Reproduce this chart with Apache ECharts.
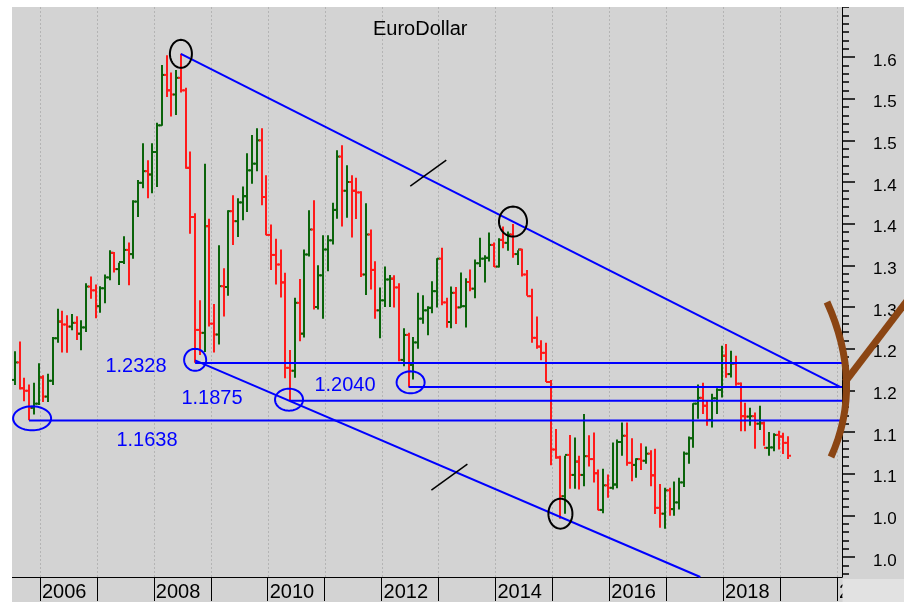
<!DOCTYPE html>
<html>
<head>
<meta charset="utf-8">
<script src="https://cdn.jsdelivr.net/npm/echarts@6/dist/echarts.min.js"></script>
<style>
html,body{margin:0;padding:0;background:#d3d3d3;}
#chart{width:904px;height:602px;}
</style>
</head>
<body>
<div id="chart"></div>
<script>
// ---------------- DATA (monthly EUR/USD bars, Aug 2005 - Mar 2019) ----------------
const firstMonth = '2005-08';
const barCount = 164;

const openV = [
 1.2125,1.2335,1.2025,1.1995,1.1790,
 1.1840,1.2155,1.1925,1.2115,1.2625,1.2825,1.2790,1.2765,1.2810,1.2680,1.2755,1.3245,
 1.3200,1.3010,1.3225,1.3355,1.3650,1.3455,1.3540,1.3685,1.3635,1.4265,1.4490,1.4630,
 1.4590,1.4860,1.5180,1.5785,1.5600,1.5550,1.5750,1.5600,1.4670,1.4080,1.2725,1.2690,
 1.3970,1.2800,1.2670,1.3250,1.3240,1.4150,1.4030,1.4255,1.4330,1.4640,1.4720,1.5000,
 1.4320,1.3865,1.3625,1.3510,1.3295,1.2270,1.2235,1.3050,1.2680,1.3630,1.3930,1.3000,
 1.3380,1.3690,1.3800,1.4165,1.4805,1.4395,1.4500,1.4395,1.4375,1.3390,1.3870,1.3445,
 1.2960,1.3080,1.3330,1.3340,1.3235,1.2365,1.2665,1.2305,1.2575,1.2860,1.2960,1.2990,
 1.3190,1.3580,1.3055,1.2820,1.3170,1.2995,1.3010,1.3300,1.3220,1.3525,1.3580,1.3590,
 1.3745,1.3485,1.3805,1.3770,1.3870,1.3635,1.3690,1.3390,1.3130,1.2630,1.2525,1.2450,
 1.2100,1.1290,1.1195,1.0730,1.1225,1.0985,1.1145,1.0985,1.1210,1.1175,1.1005,1.0565,
 1.0860,1.0830,1.0870,1.1380,1.1455,1.1130,1.1105,1.1175,1.1155,1.1240,1.0980,1.0590,
 1.0520,1.0800,1.0575,1.0655,1.0895,1.1240,1.1425,1.1840,1.1910,1.1815,1.1645,1.1905,
 1.2005,1.2415,1.2195,1.2320,1.2080,1.1690,1.1685,1.1690,1.1600,1.1605,1.1310,1.1315,
 1.1465,1.1445,1.1370
];
const highV = [
 1.2470,1.2585,1.2150,1.2070,1.2090,
 1.2325,1.2180,1.2200,1.2640,1.2980,1.2955,1.2900,1.2915,1.2890,1.2840,1.3285,1.3365,
 1.3270,1.3250,1.3390,1.3680,1.3660,1.3530,1.3850,1.3775,1.4280,1.4525,1.4965,1.4760,
 1.4965,1.5210,1.5905,1.6020,1.5815,1.5845,1.6038,1.5630,1.4865,1.4125,1.3080,1.4720,
 1.4060,1.3035,1.3740,1.3465,1.4160,1.4340,1.4305,1.4445,1.4845,1.5065,1.5145,1.5145,
 1.4580,1.3990,1.3820,1.3690,1.3410,1.2485,1.3110,1.3335,1.3690,1.4160,1.4280,1.3500,
 1.3860,1.3860,1.4250,1.4880,1.4940,1.4700,1.4580,1.4550,1.4390,1.4245,1.3930,1.3550,
 1.3235,1.3485,1.3385,1.3380,1.3285,1.2745,1.2690,1.2640,1.3170,1.3140,1.3010,1.3310,
 1.3585,1.3710,1.3110,1.3245,1.3240,1.3415,1.3345,1.3450,1.3570,1.3830,1.3620,1.3895,
 1.3775,1.3825,1.3965,1.3905,1.3995,1.3680,1.3700,1.3445,1.3220,1.2885,1.2600,1.2570,
 1.2125,1.1535,1.1215,1.1215,1.1465,1.1435,1.1215,1.1715,1.1460,1.1495,1.1050,1.1060,
 1.0990,1.1375,1.1410,1.1615,1.1615,1.1425,1.1185,1.1365,1.1325,1.1280,1.1300,1.0875,
 1.0830,1.0830,1.0905,1.0950,1.1265,1.1445,1.1845,1.2070,1.2090,1.1880,1.1960,1.2025,
 1.2535,1.2555,1.2475,1.2415,1.2095,1.1850,1.1790,1.1735,1.1815,1.1625,1.1500,1.1485,
 1.1515,1.1490,1.1450
];
const lowV = [
 1.2065,1.2010,1.1870,1.1640,1.1710,
 1.1825,1.1860,1.1860,1.2065,1.2570,1.2455,1.2450,1.2720,1.2605,1.2480,1.2700,1.3100,
 1.2865,1.2930,1.3045,1.3320,1.3415,1.3265,1.3515,1.3260,1.3580,1.4080,1.4425,1.4305,
 1.4365,1.4440,1.5175,1.5520,1.5285,1.5305,1.5575,1.4660,1.3880,1.2330,1.2425,1.2460,
 1.2765,1.2455,1.2550,1.2885,1.3135,1.3745,1.3840,1.4040,1.4140,1.4480,1.4630,1.4220,
 1.3860,1.3445,1.3270,1.3115,1.2145,1.1876,1.2150,1.2590,1.2635,1.3605,1.2970,1.2970,
 1.2860,1.3430,1.3750,1.4060,1.3965,1.4070,1.3835,1.4055,1.3360,1.3145,1.3210,1.2860,
 1.2625,1.3000,1.3000,1.2995,1.2350,1.2290,1.2042,1.2130,1.2500,1.2800,1.2660,1.2925,
 1.2995,1.3020,1.2750,1.2745,1.2795,1.2990,1.2755,1.3190,1.3105,1.3480,1.3295,1.3545,
 1.3480,1.3475,1.3705,1.3675,1.3590,1.3505,1.3365,1.3135,1.2570,1.2500,1.2360,1.2100,
 1.1100,1.1180,1.0460,1.0520,1.0820,1.0820,1.0810,1.0850,1.1085,1.0895,1.0560,1.0525,
 1.0710,1.0810,1.0825,1.1215,1.1095,1.0910,1.0950,1.1045,1.1120,1.0850,1.0515,1.0350,
 1.0340,1.0495,1.0495,1.0570,1.0840,1.1120,1.1310,1.1660,1.1715,1.1575,1.1555,1.1715,
 1.1915,1.2150,1.2155,1.2055,1.1510,1.1510,1.1575,1.1300,1.1525,1.1335,1.1215,1.1270,
 1.1290,1.1235,1.1175
];
const closeV = [
 1.2335,1.2025,1.1995,1.1790,1.1840,
 1.2155,1.1925,1.2115,1.2625,1.2825,1.2790,1.2765,1.2810,1.2680,1.2755,1.3245,1.3200,
 1.3010,1.3225,1.3355,1.3650,1.3455,1.3540,1.3685,1.3635,1.4265,1.4490,1.4630,1.4590,
 1.4860,1.5180,1.5785,1.5600,1.5550,1.5750,1.5600,1.4670,1.4080,1.2725,1.2690,1.3970,
 1.2800,1.2670,1.3250,1.3240,1.4150,1.4030,1.4255,1.4330,1.4640,1.4720,1.5000,1.4320,
 1.3865,1.3625,1.3510,1.3295,1.2270,1.2235,1.3050,1.2680,1.3630,1.3930,1.3000,1.3380,
 1.3690,1.3800,1.4165,1.4805,1.4395,1.4500,1.4395,1.4375,1.3390,1.3870,1.3445,1.2960,
 1.3080,1.3330,1.3340,1.3235,1.2365,1.2665,1.2305,1.2575,1.2860,1.2960,1.2990,1.3190,
 1.3580,1.3055,1.2820,1.3170,1.2995,1.3010,1.3300,1.3220,1.3525,1.3580,1.3590,1.3745,
 1.3485,1.3805,1.3770,1.3870,1.3635,1.3690,1.3390,1.3130,1.2630,1.2525,1.2450,1.2100,
 1.1290,1.1195,1.0730,1.1225,1.0985,1.1145,1.0985,1.1210,1.1175,1.1005,1.0565,1.0860,
 1.0830,1.0870,1.1380,1.1455,1.1130,1.1105,1.1175,1.1155,1.1240,1.0980,1.0590,1.0520,
 1.0800,1.0575,1.0655,1.0895,1.1240,1.1425,1.1840,1.1910,1.1815,1.1645,1.1905,1.2005,
 1.2415,1.2195,1.2320,1.2080,1.1690,1.1685,1.1690,1.1600,1.1605,1.1310,1.1315,1.1465,
 1.1445,1.1370,1.1215
];

// right-axis tick labels and year labels
const priceTicks = [1.00,1.05,1.10,1.15,1.20,1.25,1.30,1.35,1.40,1.45,1.50,1.55,1.60];
const yearTicks = [2006,2007,2008,2009,2010,2011,2012,2013,2014,2015,2016,2017,2018,2019,2020];
const labelledYears = [2006,2008,2010,2012,2014,2016,2018,2020];

// annotated support levels
const levelValues = [1.2328, 1.1875, 1.2040, 1.1638];
const levelFrom   = ['2008-10','2010-06','2012-07','2005-11'];

// trend-line anchor points [month, price]
const upperTrend = [['2008-07', 1.6038], ['2014-05', 1.4025]];
const lowerTrend = [['2008-10', 1.2360], ['2015-03', 1.0480]];

// circled turning points [month, price]
const blackCircles = [['2008-07', 1.6038], ['2014-05', 1.3995], ['2015-03', 1.0460]];
const blueCircles  = [['2008-10', 1.2330], ['2010-06', 1.1876], ['2012-07', 1.2042], ['2005-11', 1.1640]];

// parallel-channel slash marks [month-index, price]
const slashMarks = [[93.85, 1.4607], [98.3, 1.0958]];

// ---------------- helpers / styles ----------------
const FONT = '"Liberation Sans", Arial, sans-serif';
const GREEN = '#0a640a', RED = '#ff1a1a', BLUE = '#0000ff';
const X_MIN = 6.1, X_MAX = 181.06, Y_MIN = 0.976, Y_MAX = 1.66;
const BAR_SHIFT = -1.4;
function mIdx(s){ const p = s.split('-').map(Number); return (p[0]-2005)*12 + (p[1]-1); }
const startIdx = mIdx(firstMonth);
const barData = [];
for (let i = 0; i < barCount; i++) barData.push([startIdx + i, openV[i], highV[i], lowV[i], closeV[i]]);
const yearTickVals = yearTicks.map(y => (y-2005)*12);
const minorTicks = [];
for (let k = 98; k <= 166; k++) minorTicks.push(k/100);

// style for circles: [rx, ry, dx, dy]
const blackCircleStyle = [[11,14,0,0],[14,15,0,-2.5],[12,15,0,-5]];
const blueCircleStyle  = [[11,11,0,-3],[14,11,-1,-1],[14,11,2,-4.5],[19,12,3,-2]];

function lineThrough(a, b, toX, toY){
  const x1 = mIdx(a[0]), y1 = a[1], x2 = mIdx(b[0]), y2 = b[1];
  const s = (y2-y1)/(x2-x1);
  if (toX != null) return [[x1, y1],[toX, y1 + s*(toX-x1)]];
  return [[x1, y1],[x1 + (toY-y1)/s, toY]];
}

function ellipsePts(cx, cy, rx, ry){
  const pts = [];
  for (let k = 0; k < 64; k++){ const t = k/64*Math.PI*2; pts.push([cx+rx*Math.cos(t), cy+ry*Math.sin(t)]); }
  return pts;
}

const blueLineStyle = {color: BLUE, width: 2};
const series = [];

// vertical dotted year grid lines
series.push({
  type:'custom', z:1, silent:true,
  data: yearTickVals.map(v => [v]),
  encode:{x:0},
  renderItem(params, api){
    const top = api.coord([api.value(0), Y_MAX]);
    const bot = api.coord([api.value(0), Y_MIN]);
    const x = Math.round(top[0]) + 0.5;
    return {type:'line', shape:{x1:x, y1:top[1], x2:x, y2:bot[1]},
      style:{stroke:'#b4b4b4', lineWidth:1, lineDash:[2,2]}};
  }
});

// OHLC bars
series.push({
  type:'custom', z:2, silent:true,
  data: barData,
  encode:{x:0, y:[1,2,3,4]},
  renderItem(params, api){
    const x = api.value(0), o = api.value(1), h = api.value(2), l = api.value(3), c = api.value(4);
    const pH = api.coord([x,h]), pL = api.coord([x,l]), pO = api.coord([x,o]), pC = api.coord([x,c]);
    const px = Math.round(pH[0] + BAR_SHIFT);
    const st = {stroke: c >= o ? GREEN : RED, lineWidth: 2};
    return {type:'group', children:[
      {type:'line', shape:{x1:px, y1:pH[1], x2:px, y2:pL[1]}, style:st},
      {type:'line', shape:{x1:px-3, y1:pO[1], x2:px, y2:pO[1]}, style:st},
      {type:'line', shape:{x1:px, y1:pC[1], x2:px+3, y2:pC[1]}, style:st}
    ]};
  }
});

// horizontal support levels
levelValues.forEach((v, i) => {
  series.push({type:'line', z:3, silent:true, symbol:'none', lineStyle:blueLineStyle,
    data:[[mIdx(levelFrom[i]) - 0.3, v],[X_MAX, v]]});
});
// trend lines
series.push({type:'line', z:3, silent:true, symbol:'none', lineStyle:blueLineStyle,
  data: lineThrough(upperTrend[0], upperTrend[1], X_MAX, null).map(p => [p[0]-0.3, p[1]])});
series.push({type:'line', z:3, silent:true, symbol:'none', lineStyle:blueLineStyle,
  data: lineThrough(lowerTrend[0], lowerTrend[1], null, Y_MIN).map(p => [p[0]-0.3, p[1]])});

// circles and slash marks
series.push({
  type:'custom', z:4, silent:true, clip:false,
  data:[[0]], encode:{x:0},
  renderItem(params, api){
    const children = [];
    blackCircles.forEach((p, i) => {
      const c = api.coord([mIdx(p[0]), p[1]]); const s = blackCircleStyle[i];
      children.push({type:'polygon', shape:{points: ellipsePts(c[0]+BAR_SHIFT+s[2], c[1]+s[3], s[0], s[1])},
        style:{fill:'none', stroke:'#000', lineWidth:2}});
    });
    blueCircles.forEach((p, i) => {
      const c = api.coord([mIdx(p[0]), p[1]]); const s = blueCircleStyle[i];
      children.push({type:'polygon', shape:{points: ellipsePts(c[0]+BAR_SHIFT+s[2], c[1]+s[3], s[0], s[1])},
        style:{fill:'none', stroke:BLUE, lineWidth:2}});
    });
    slashMarks.forEach(p => {
      const c = api.coord(p);
      children.push({type:'line', shape:{x1:c[0]-18, y1:c[1]+13, x2:c[0]+18, y2:c[1]-13},
        style:{stroke:'#000', lineWidth:1.5}});
    });
    return {type:'group', children};
  }
});

const chart = echarts.init(document.getElementById('chart'), null, {renderer:'canvas'});
chart.setOption({
  animation:false,
  backgroundColor:'#d3d3d3',
  title:{text:'EuroDollar', left:373, top:19, padding:0,
    textStyle:{fontFamily:FONT, fontSize:20, fontWeight:'normal', color:'#000'}},
  grid:{left:12, right:62, top:7, bottom:24, containLabel:false},
  xAxis:{
    type:'value', min:X_MIN, max:X_MAX,
    axisLine:{show:true, lineStyle:{color:'#000', width:1}},
    axisTick:{show:true, customValues:yearTickVals, length:24, lineStyle:{color:'#000', width:1}},
    axisLabel:{show:true, customValues:yearTickVals, align:'left', margin:5, padding:[0,0,0,2],
      fontFamily:FONT, fontSize:20, color:'#000', hideOverlap:false,
      formatter:(v) => { const y = Math.round(2005 + v/12); return labelledYears.indexOf(y) >= 0 ? String(y) : ''; }},
    splitLine:{show:false}
  },
  yAxis:[{
    type:'value', position:'right', min:Y_MIN, max:Y_MAX, z:20,
    axisLine:{show:true, lineStyle:{color:'#000', width:1}},
    axisTick:{show:true, customValues:priceTicks, length:13, lineStyle:{color:'#000', width:1.5}},
    axisLabel:{show:true, customValues:priceTicks, margin:31, verticalAlign:'top', lineHeight:8,
      fontFamily:FONT, fontSize:17, color:'#000',
      formatter:(v) => v.toFixed(2).slice(0,3)},
    splitLine:{show:false}
  },{
    type:'value', position:'right', min:Y_MIN, max:Y_MAX, z:20,
    axisLine:{show:false},
    axisTick:{show:true, customValues:minorTicks, length:7, lineStyle:{color:'#000', width:1.5}},
    axisLabel:{show:false},
    splitLine:{show:false}
  }],
  graphic:[
    {type:'rect', z:50, shape:{x:0, y:0, width:904, height:7}, style:{fill:'#ffffff'}},
    {type:'rect', z:50, shape:{x:0, y:0, width:12, height:602}, style:{fill:'#ffffff'}},
    {type:'rect', z:50, shape:{x:842.5, y:579, width:62, height:23}, style:{fill:'#e2e2e2'}},
    {type:'text', z:60, x:136, y:366, style:{text:levelValues[0].toFixed(4), fill:BLUE, font:'20px '+FONT, align:'center', verticalAlign:'middle'}},
    {type:'text', z:60, x:212, y:398, style:{text:levelValues[1].toFixed(4), fill:BLUE, font:'20px '+FONT, align:'center', verticalAlign:'middle'}},
    {type:'text', z:60, x:345, y:385, style:{text:levelValues[2].toFixed(4), fill:BLUE, font:'20px '+FONT, align:'center', verticalAlign:'middle'}},
    {type:'text', z:60, x:147, y:440, style:{text:levelValues[3].toFixed(4), fill:BLUE, font:'20px '+FONT, align:'center', verticalAlign:'middle'}},
    {type:'bezierCurve', z:70, shape:{x1:827, y1:302, x2:831, y2:457, cpx1:864, cpy1:384},
      style:{stroke:'#8b4513', lineWidth:7, fill:'none'}},
    {type:'line', z:70, shape:{x1:845, y1:382, x2:910, y2:297},
      style:{stroke:'#8b4513', lineWidth:7}}
  ],
  series
});
</script>
</body>
</html>
